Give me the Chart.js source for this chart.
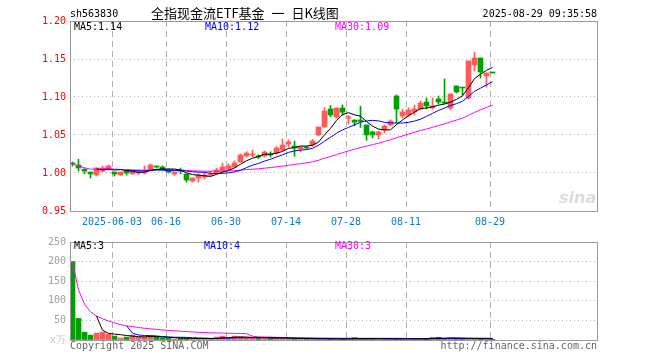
<!DOCTYPE html>
<html>
<head>
<meta charset="utf-8">
<script src="https://cdn.jsdelivr.net/npm/chart.js@4.4.1/dist/chart.umd.min.js"></script>
<style>
body { margin: 0; background: #fff; width: 660px; height: 360px; overflow: hidden; position: relative;
       font-family: "DejaVu Sans Mono", monospace; font-size: 10px; }
canvas { position: absolute; left: 0; }
#kline { top: 0; }
#vol { top: 232px; }
.t { position: absolute; white-space: nowrap; line-height: 10px; }
</style>
</head>
<body>
<canvas id="kline" width="660" height="232"></canvas>
<canvas id="vol" width="660" height="128"></canvas>

<div class="t" style="left:70px;top:9px">sh563830</div>
<div class="t" style="left:151px;top:5px;font-family:'Noto Sans CJK SC';font-size:13px;line-height:16px;word-spacing:4px">全指现金流ETF基金 一 日K线图</div>
<div class="t" style="right:63px;top:9px">2025-08-29 09:35:58</div>

<div class="t" style="left:74px;top:22px;color:#000">MA5:1.14</div>
<div class="t" style="left:205px;top:22px;color:#0000ff">MA10:1.12</div>
<div class="t" style="left:335px;top:22px;color:#ff00ff">MA30:1.09</div>

<div class="t" style="left:74px;top:241px;color:#000">MA5:3</div>
<div class="t" style="left:204px;top:241px;color:#0000ff">MA10:4</div>
<div class="t" style="left:335px;top:241px;color:#ff00ff">MA30:3</div>

<div class="t" style="left:70px;top:341px;color:#666">Copyright 2025 SINA.COM</div>
<div class="t" style="right:63px;top:341px;color:#666">http://finance.sina.com.cn</div>
<div class="t" style="left:559px;top:190px;font-family:'DejaVu Sans';font-style:italic;font-weight:bold;font-size:16px;line-height:16px;color:#dcdcdc">sina</div>

<script>
// daily data, 2025-05-22 .. 2025-08-29 (price in yuan, volume in 10k)
const open = [1.0125,1.0105,1.005,1.0013,0.9974,1.0026,1.0053,1.0013,0.9974,1.0026,
  0.9987,1.0000,1.0000,1.0053,1.008,1.0079,1.004,0.9987,1.004,0.9987,
  0.9895,0.9934,0.9947,0.9974,1.0000,1.0026,1.0053,1.0079,1.0145,1.0224,
  1.0237,1.0224,1.0224,1.0243,1.0263,1.030,1.0382,1.0355,1.0316,1.0342,
  1.0368,1.050,1.0605,1.0842,1.0737,1.0855,1.072,1.0697,1.0697,1.0632,
  1.054,1.050,1.0566,1.0632,1.1013,1.075,1.0763,1.0803,1.0842,1.0934,
  1.0855,1.0974,1.0934,1.0855,1.1145,1.112,1.0987,1.142,1.1513,1.1276,1.1316];
const high = [1.0145,1.018,1.006,1.0013,1.007,1.0092,1.0105,1.0013,1.0013,1.0026,
  1.0026,1.004,1.0092,1.012,1.0092,1.0092,1.0053,1.0013,1.0066,0.9987,
  0.9934,0.999,1.0013,1.0026,1.0066,1.013,1.012,1.016,1.025,1.028,
  1.030,1.024,1.029,1.028,1.035,1.0447,1.0434,1.042,1.035,1.035,
  1.044,1.0605,1.086,1.089,1.0855,1.0895,1.076,1.070,1.088,1.0632,
  1.0553,1.055,1.063,1.070,1.1026,1.084,1.086,1.0895,1.0947,1.0987,
  1.0987,1.1013,1.1237,1.104,1.1145,1.112,1.1474,1.159,1.1513,1.1316,1.1316];
const low = [1.009,1.0026,0.999,0.9934,0.996,1.001,1.004,0.996,0.997,0.997,
  0.9987,0.998,0.9987,1.005,1.0066,1.004,1.0000,0.997,0.999,0.988,
  0.9882,0.988,0.992,0.995,0.999,1.002,1.004,1.007,1.0145,1.021,
  1.021,1.019,1.021,1.021,1.025,1.029,1.034,1.022,1.0276,1.032,
  1.035,1.049,1.060,1.074,1.072,1.076,1.0645,1.062,1.060,1.043,
  1.046,1.0447,1.0526,1.0618,1.0658,1.0724,1.074,1.0763,1.0829,1.0842,
  1.0842,1.0908,1.0908,1.0829,1.1053,1.1026,1.097,1.134,1.125,1.113,1.1316];
const close = [1.0118,1.0066,1.0026,0.9987,1.0066,1.0066,1.0092,0.9987,1.0013,1.0000,
  1.0026,1.0013,1.0013,1.0105,1.0079,1.0053,1.0013,1.0013,1.0026,0.9908,
  0.9934,0.9974,0.9974,0.9987,1.004,1.0079,1.0092,1.0132,1.0237,1.0263,
  1.025,1.021,1.0276,1.0237,1.0329,1.0368,1.0408,1.0329,1.0342,1.0329,
  1.0421,1.0605,1.0816,1.0763,1.0855,1.080,1.0737,1.067,1.068,1.050,
  1.050,1.054,1.0618,1.0684,1.0842,1.0803,1.0829,1.0842,1.0921,1.0882,
  1.0882,1.0934,1.092,1.104,1.1066,1.1118,1.1474,1.1513,1.1329,1.1316,1.1316];
const volume = [200,55,20,12.5,17.5,20,15,10,5,7.5,
  12.5,7.5,7.5,10,7.5,5,5,2.5,5,5,
  3,3,3,3,7.5,10,5,10,7.5,5,
  5,5,6,4,4,6,4,3,3,3,
  3,3,3,3,3,3,3,6,3,3,
  3,3,3,3,3,3,3,3,3,3,
  7,7,4,5,4,4,4,3,3,3,2];

const tickIdx = [7, 16, 26, 36, 46, 56, 70];
const tickLabels = ['2025-06-03', '06-16', '06-30', '07-14', '07-28', '08-11', '08-29'];
const priceTicks = [0.95, 1.00, 1.05, 1.10, 1.15, 1.20];
const volTicks = [0, 50, 100, 150, 200, 250];

const UP = '#ff5a5a', DOWN = '#00a000';
const SLOTS = 527 / 6;   // the plot leaves room for about 88 trading days
const MID = 2.5 / 6;     // centre of a 5px candle inside its 6px day slot
const mono = { family: 'DejaVu Sans Mono', size: 10 };

const colors = close.map((c, i) => c > open[i] ? UP : DOWN);

function ma(arr, n, partial) {
    return arr.map((v, i) => {
        if (i < n - 1 && !partial) return null;
        const s = arr.slice(Math.max(0, i - n + 1), i + 1);
        return s.reduce((a, b) => a + b, 0) / s.length;
    });
}
const pts = arr => arr.map((v, i) => ({ x: i + MID, y: v }));
const lineDs = (data, color) => ({ type: 'line', data: pts(data), borderColor: color, borderWidth: 1,
    pointRadius: 0, fill: false, tension: 0, order: 1 });

const frame = {
    id: 'frame',
    afterDraw(c) {
        const a = c.chartArea, ctx = c.ctx;
        ctx.save();
        ctx.strokeStyle = '#999';
        ctx.lineWidth = 1;
        ctx.strokeRect(Math.round(a.left) + 0.5, Math.round(a.top) + 0.5,
            Math.round(a.right - a.left), Math.round(a.bottom - a.top));
        ctx.restore();
    }
};

function xScale(showLabels, h) {
    return {
        type: 'linear', min: 0, max: SLOTS, offset: false,
        afterFit(s) { s.height = h; },
        afterBuildTicks(s) { s.ticks = tickIdx.map(v => ({ value: v })); },
        ticks: { display: showLabels, autoSkip: false, maxRotation: 0, color: '#0a7bc8', font: mono, padding: 5,
            callback: (v, i) => tickLabels[i] },
        grid: { drawTicks: false, offset: false, color: '#b0b0b0' },
        border: { display: false, dash: [6, 4] }
    };
}

new Chart(document.getElementById('kline'), {
    type: 'bar',
    data: {
        datasets: [
            { data: pts(low).map((p, i) => ({ x: p.x, y: [low[i], high[i]] })), backgroundColor: colors,
              barThickness: 1, grouped: false, order: 3 },
            { data: pts(open).map((p, i) => ({ x: p.x, y: [open[i], close[i]] })), backgroundColor: colors,
              barThickness: 5, minBarLength: 1, grouped: false, order: 2 },
            lineDs(ma(close, 5), '#000000'),
            lineDs(ma(close, 10), '#0000ff'),
            lineDs(ma(close, 30, true), '#ff00ff')
        ]
    },
    options: {
        responsive: false, animation: false,
        layout: { padding: { top: 21, right: 63, left: 0, bottom: 0 } },
        plugins: { legend: { display: false }, tooltip: { enabled: false } },
        scales: {
            x: xScale(true, 21),
            y: {
                min: 0.95, max: 1.20,
                afterFit(s) { s.width = 70; },
                afterBuildTicks(s) { s.ticks = priceTicks.map(v => ({ value: v })); },
                ticks: { color: '#ff0000', font: mono, padding: 4, callback: v => v.toFixed(2) },
                grid: { drawTicks: false, color: c => (c.tick && c.tick.value > 0.96 && c.tick.value < 1.19) ? '#b0b0b0' : 'rgba(0,0,0,0)' },
                border: { display: false, dash: [1, 3] }
            }
        }
    },
    plugins: [frame]
});

new Chart(document.getElementById('vol'), {
    type: 'bar',
    data: {
        datasets: [
            { data: pts(volume), backgroundColor: colors, barThickness: 5, grouped: false, order: 2 },
            lineDs(ma(volume, 5), '#000000'),
            lineDs(ma(volume, 10), '#0000ff'),
            lineDs(ma(volume, 30, true), '#ff00ff')
        ]
    },
    options: {
        responsive: false, animation: false,
        layout: { padding: { top: 8, right: 63, left: 0, bottom: 0 } },
        plugins: { legend: { display: false }, tooltip: { enabled: false } },
        scales: {
            x: xScale(false, 20),
            y: {
                min: 0, max: 250,
                afterFit(s) { s.width = 70; },
                afterBuildTicks(s) { s.ticks = volTicks.map(v => ({ value: v })); },
                ticks: { color: c => c.tick && c.tick.value === 0 ? '#c8c8c8' : '#a0a0a0', font: mono, padding: 4,
                    callback: v => v === 0 ? 'x万' : String(v) },
                grid: { drawTicks: false, color: c => (c.tick && c.tick.value > 0 && c.tick.value < 250) ? '#b0b0b0' : 'rgba(0,0,0,0)' },
                border: { display: false, dash: [1, 3] }
            }
        }
    },
    plugins: [frame]
});
</script>
</body>
</html>
